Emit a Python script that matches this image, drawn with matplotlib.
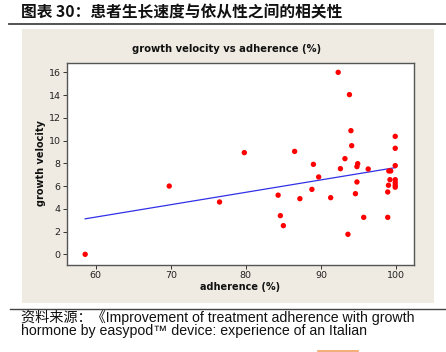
import matplotlib
matplotlib.use("Agg")
import matplotlib.pyplot as plt
from matplotlib.patches import Rectangle
from matplotlib.lines import Line2D

# ---- data ----
adherence = [58.6, 69.8, 76.5, 79.8, 84.3, 84.6, 85.0, 86.5, 87.2, 88.8, 89.0, 89.7,
             91.3, 92.3, 92.6, 93.2, 93.6, 93.8, 94.0, 94.1, 94.6, 94.8, 94.8, 94.9,
             95.7, 96.3, 98.9, 98.9, 99.0, 99.05, 99.3, 99.2, 99.9, 99.9, 99.9, 99.9,
             99.9, 99.9, 99.9]
velocity = [0.0, 6.0, 4.6, 8.94, 5.2, 3.4, 2.52, 9.05, 4.89, 5.71, 7.91, 6.8,
            4.98, 16.0, 7.53, 8.41, 1.76, 14.04, 10.87, 9.55, 5.33, 6.36, 7.71, 7.97,
            3.25, 7.5, 3.25, 5.48, 6.07, 7.33, 7.33, 6.56, 10.37, 9.32, 7.8, 6.56,
            6.3, 6.07, 5.9]
fit_x = [58.6, 99.9]
fit_y = [3.12, 7.62]
xticks = [60, 70, 80, 90, 100]
yticks = [0, 2, 4, 6, 8, 10, 12, 14, 16]

title_cn = "图表 30：患者生长速度与依从性之间的相关性"
chart_title = "growth velocity vs adherence (%)"
xlabel = "adherence (%)"
ylabel = "growth velocity"
source_1 = "资料来源：《Improvement of treatment adherence with growth"
source_2 = "hormone by easypod™ device: experience of an Italian"

W, H = 446, 352
fig = plt.figure(figsize=(W / 100, H / 100), dpi=100)
fig.patch.set_facecolor("white")

def fx(px):
    return px / W

def fy(py):
    return 1 - py / H

# beige panel
fig.patches.append(Rectangle((fx(22), fy(303)), fx(434) - fx(22), fy(29) - fy(303),
                             transform=fig.transFigure, facecolor="#efebe2",
                             edgecolor="none", zorder=-5))
# horizontal rules
fig.lines.append(Line2D([fx(9), 1.0], [fy(23.5), fy(23.5)], transform=fig.transFigure,
                        color="#444444", linewidth=1.3, zorder=-4))
fig.lines.append(Line2D([fx(10), 1.0], [fy(309.3), fy(309.3)], transform=fig.transFigure,
                        color="#444444", linewidth=1.0, zorder=-4))
fig.lines.append(Line2D([fx(318), fx(358)], [fy(351), fy(351)], transform=fig.transFigure,
                        color="#f0a060", linewidth=1.2, zorder=-4))

fig.text(fx(21), fy(12), title_cn, fontsize=11.3, fontweight="bold",
         family=["Noto Sans CJK SC", "DejaVu Sans"], va="center", ha="left", color="#111111")

ax = fig.add_axes([fx(67), fy(265), fx(414) - fx(67), fy(63) - fy(265)], zorder=2)
ax.set_facecolor("white")
ax.scatter(adherence, velocity, s=15, color="#ff0000", edgecolors="none", zorder=3)
ax.plot(fit_x, fit_y, color="#3030e8", linewidth=0.9, zorder=2)
ax.set_xlim(56.18, 102.4)
ax.set_ylim(-0.94, 16.82)
ax.set_xticks(xticks)
ax.set_yticks(yticks)
ax.tick_params(labelsize=6.8, length=3, width=0.7, color="#333333", labelcolor="#222222", pad=1.5)
for s in ax.spines.values():
    s.set_color("#555555")
    s.set_linewidth(1.0)

fig.text(fx(227), fy(49), chart_title, fontsize=7.2, fontweight="bold",
         ha="center", va="center", color="#111111")
fig.text(fx(240), fy(287), xlabel, fontsize=7.0, fontweight="bold",
         ha="center", va="center", color="#111111")
fig.text(fx(41), fy(163), ylabel, fontsize=7.0, fontweight="bold", rotation=90,
         ha="center", va="center", color="#111111")

fig.text(fx(21), fy(322), source_1, fontsize=10.2, family=["Liberation Sans", "Noto Sans CJK SC"],
         ha="left", va="baseline", color="#111111")
fig.text(fx(21), fy(334.5), source_2, fontsize=10.2, family=["Liberation Sans", "Noto Sans CJK SC"],
         ha="left", va="baseline", color="#111111")

fig.savefig("out.png", dpi=100)
